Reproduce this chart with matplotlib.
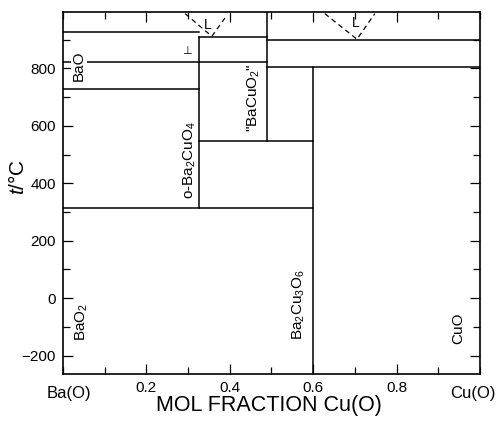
import matplotlib
matplotlib.use('agg')
import matplotlib.pyplot as plt
from matplotlib.ticker import MultipleLocator

plt.rcParams['font.family'] = ['Liberation Sans', 'DejaVu Sans']
plt.rcParams['mathtext.fontset'] = 'custom'
plt.rcParams['mathtext.rm'] = 'Liberation Sans'
plt.rcParams['mathtext.it'] = 'Liberation Sans:italic'

# phase boundaries: (x0, x1, t) horizontal, (x, t0, t1) vertical
horiz = [
    (0.0, 0.327, 928), (0.327, 0.49, 908), (0.49, 1.0, 900),
    (0.0, 0.49, 821), (0.49, 1.0, 804),
    (0.0, 0.327, 727), (0.327, 0.6, 546), (0.0, 0.6, 313),
]
vert = [(0.327, 908, 313), (0.49, 995, 546), (0.6, 804, -264)]

# liquidus branches (dashed)
liq1_x = [0.293, 0.357, 0.393]
liq1_t = [991, 912, 985]
liq2_x = [0.628, 0.705, 0.748]
liq2_t = [991, 902, 991]

phases = [
    ('BaO', 0.038, 810, True),
    ('o-Ba$_2$CuO$_4$', 0.305, 480, False),
    ('"BaCuO$_2$"', 0.457, 699, False),
    ('Ba$_2$Cu$_3$O$_6$', 0.566, -24, False),
    ('CuO', 0.947, -104, False),
    ('BaO$_2$', 0.046, -83, False),
]

fig = plt.figure(figsize=(5.02, 4.25), dpi=100)
ax = fig.add_axes([0.1255, 0.12, 0.8305, 0.8506])
ax.set_xlim(0, 1)
ax.set_ylim(-264, 995)

for x0, x1, t in horiz:
    ax.plot([x0, x1], [t, t], color='black', lw=1.1)
for x, t0, t1 in vert:
    ax.plot([x, x], [t0, t1], color='black', lw=1.1)
ax.plot(liq1_x, liq1_t, color='black', lw=0.9, ls=(0, (4, 3)))
ax.plot(liq2_x, liq2_t, color='black', lw=0.9, ls=(0, (4, 3)))
ax.text(0.348, 952, 'L', fontsize=10, ha='center', va='center')
ax.text(0.703, 960, 'L', fontsize=10, ha='center', va='center')
ax.text(0.297, 862, '\u22a5', fontsize=8, ha='center', va='center')

for lbl, x, t, boxed in phases:
    bb = dict(facecolor='white', edgecolor='none', pad=0.5) if boxed else None
    ax.text(x, t, lbl, rotation=90, fontsize=11, ha='center', va='center', bbox=bb)

ax.xaxis.set_minor_locator(MultipleLocator(0.1))
ax.yaxis.set_minor_locator(MultipleLocator(100))
ax.set_xticks([0.2, 0.4, 0.6, 0.8])
ax.set_xticklabels(['0.2', '0.4', '0.6', '0.8'])
ax.set_yticks([-200, 0, 200, 400, 600, 800])
ax.tick_params(which='both', direction='in', top=True, right=True, labelsize=11, width=0.9)
ax.tick_params(which='major', length=7.5, pad=5)
ax.tick_params(which='minor', length=5)
for sp in ax.spines.values():
    sp.set_linewidth(1.2)

ax.text(0.014, -0.055, 'Ba(O)', transform=ax.transAxes, fontsize=12, ha='center', va='center')
ax.text(0.983, -0.055, 'Cu(O)', transform=ax.transAxes, fontsize=12, ha='center', va='center')
fig.text(269 / 502, 1 - 405 / 425, 'MOL FRACTION Cu(O)', fontsize=15.5, ha='center', va='center')
fig.text(18 / 502, 1 - 177 / 425, '$t$/°C', fontsize=15, rotation=90, ha='center', va='center')

fig.savefig('out.png', dpi=100)
